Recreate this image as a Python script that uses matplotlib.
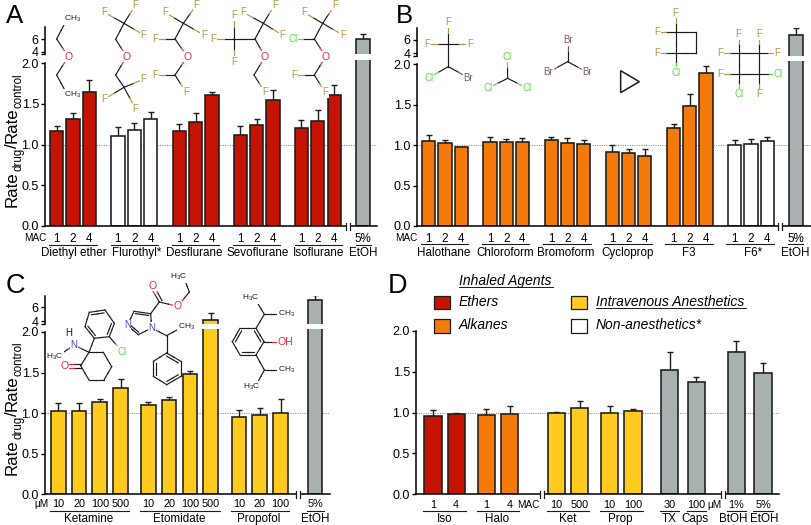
import matplotlib
matplotlib.use('Agg')
import matplotlib.pyplot as plt
from matplotlib.patches import Rectangle, Polygon
import numpy as np

plt.rcParams['font.family'] = ['Liberation Sans', 'DejaVu Sans']
plt.rcParams['mathtext.fontset'] = 'custom'
plt.rcParams['mathtext.rm'] = 'Liberation Sans'
plt.rcParams['mathtext.default'] = 'regular'

# panel A
a_names = ['Diethyl ether', 'Flurothyl*', 'Desflurane', 'Sevoflurane', 'Isoflurane']
a_ticks = ['1', '2', '4']
a_vals = [[1.17, 1.31, 1.645], [1.107, 1.176, 1.31], [1.17, 1.28, 1.61],
          [1.12, 1.24, 1.553], [1.205, 1.295, 1.607]]
a_hi = [[1.23, 1.39, 1.795], [1.22, 1.26, 1.40], [1.25, 1.39, 1.643],
        [1.235, 1.31, 1.668], [1.30, 1.42, 1.738]]
a_etoh = 6.0
a_etoh_hi = 6.8

# panel B
b_names = ['Halothane', 'Chloroform', 'Bromoform', 'Cycloprop', 'F3', 'F6*']
b_ticks = ['1', '2', '4']
b_vals = [[1.05, 1.03, 0.975], [1.04, 1.045, 1.037], [1.062, 1.03, 1.012],
          [0.913, 0.90, 0.868], [1.21, 1.48, 1.888], [1.008, 1.02, 1.05]]
b_hi = [[1.13, 1.06, 0.983], [1.10, 1.08, 1.087], [1.095, 1.087, 1.062],
        [0.996, 0.95, 0.955], [1.256, 1.632, 1.983], [1.062, 1.078, 1.095]]
b_etoh = 6.75
b_etoh_hi = 7.85

# panel C
c_names = ['Ketamine', 'Etomidate', 'Propofol']
c_ticks = [['10', '20', '100', '500'], ['10', '20', '100', '500'], ['10', '20', '100']]
c_vals = [[1.03, 1.03, 1.137, 1.314], [1.097, 1.162, 1.478, 4.2], [0.953, 0.977, 1.006]]
c_hi = [[1.12, 1.12, 1.18, 1.425], [1.133, 1.20, 1.52, 5.1], [1.04, 1.06, 1.175]]
c_etoh = 7.1
c_etoh_hi = 7.8

# panel D
d_names = ['Iso', 'Halo', 'Ket', 'Prop', 'TX', 'Caps', 'BtOH', 'EtOH']
d_ticks = ['1', '4', '1', '4', '10', '500', '10', '100', '30', '100', '1%', '5%']
d_vals = [0.953, 0.98, 0.965, 0.98, 0.998, 1.05, 0.998, 1.014, 1.515, 1.369, 1.743, 1.487]
d_hi = [1.03, 0.998, 1.04, 1.075, 1.006, 1.136, 1.075, 1.047, 1.74, 1.438, 1.878, 1.605]

RED = '#C41300'
ORANGE = '#F57A0C'
YELLOW = '#FFCB1E'
GREY = '#A7B2B0'
WHITE = '#FFFFFF'
INK = '#1c1c1c'
C_O = '#E0303A'
C_F = '#B8924A'
C_CL = '#5CDB45'
C_BR = '#85586A'
C_N = '#3A45C8'

W, H = 812, 525
fig = plt.figure(figsize=(W / 100, H / 100), dpi=100)


def make_ax(left, right, top, bottom):
    ax = fig.add_axes([left / W, 1 - bottom / H, (right - left) / W, (bottom - top) / H])
    ax.patch.set_alpha(0)
    ax.set_xlim(left, right)
    for s in ['top', 'right']:
        ax.spines[s].set_visible(False)
    ax.spines['left'].set_linewidth(1.1)
    ax.spines['bottom'].set_linewidth(1.1)
    ax.tick_params(axis='y', length=3.2, width=1.0, pad=1, labelsize=9)
    return ax


def draw_bars(ax, x, vals, hi, colors, width):
    vals = np.array(vals, dtype=float)
    hi = np.array(hi, dtype=float)
    ax.bar(x, vals, width, color=colors, edgecolor=INK, linewidth=1.15, zorder=2)
    ax.errorbar(x, vals, yerr=[np.zeros(len(vals)), hi - vals], fmt='none', ecolor=INK,
                elinewidth=1.0, capsize=2.4, capthick=1.0, zorder=1)


def panel(left, right, y0, y2, x, vals, hi, colors, width, ticklabels, tick_size=8.4,
          tick_pad=5.0, upper=None):
    ppu = (y0 - y2) / 2.0
    low = make_ax(left, right, y2 - 3, y0)
    low.set_ylim(0, 2 + 3 / ppu)
    low.spines['left'].set_bounds(0, 2)
    low.set_yticks([0, 0.5, 1.0, 1.5, 2.0], ['0.0', '0.5', '1.0', '1.5', '2.0'])
    low.axhline(1.0, color='#808080', lw=0.7, ls=(0, (1, 1.4)), zorder=0)
    draw_bars(low, x, vals, hi, colors, width)
    low.set_xticks(x, ticklabels)
    low.tick_params(axis='x', length=0, pad=tick_pad, labelsize=tick_size)
    if upper is not None:
        y6, y4, ytop, ybrk = upper
        per = (y4 - y6) / 2.0
        lo = 4 - (ybrk - y4) / per
        up = make_ax(left, right, ytop, ybrk)
        up.set_ylim(lo, 6 + (y6 - ytop) / per)
        up.spines['bottom'].set_visible(False)
        up.set_yticks([lo, 4, 6], ['', '4', '6'])
        up.set_xticks([])
        draw_bars(up, x, vals, hi, colors, width)
    return low


# panel A bars
a_x = [56.7 + 61.2 * g + 16.4 * i for g in range(5) for i in range(3)] + [363]
a_colors = [RED] * 3 + [WHITE] * 3 + [RED] * 9 + [GREY]
panel(44.7, 377, 226, 63.3, a_x, sum(a_vals, []) + [a_etoh], sum(a_hi, []) + [a_etoh_hi],
      a_colors, 13.2, a_ticks * 5 + ['5%'], upper=(39.3, 51.7, 27, 54.3))

# panel B bars
b_x = [428.8 + 61.2 * g + 16.2 * i for g in range(6) for i in range(3)] + [796]
b_colors = [ORANGE] * 15 + [WHITE] * 3 + [GREY]
panel(416.7, 811, 226, 64.3, b_x, sum(b_vals, []) + [b_etoh], sum(b_hi, []) + [b_etoh_hi],
      b_colors, 13.2, b_ticks * 6 + ['5%'], upper=(40, 53, 27.5, 55.5))

# panel C bars
c_start = [58.3, 148.3, 239]
c_x = [c_start[g] + 20.8 * i for g in range(3) for i in range(len(c_vals[g]))] + [315]
c_colors = [YELLOW] * 11 + [GREY]
panel(44.7, 330, 494.3, 332, c_x, sum(c_vals, []) + [c_etoh], sum(c_hi, []) + [c_etoh_hi],
      c_colors, 14.8, sum(c_ticks, []) + ['5%'], tick_size=7.8, tick_pad=3.7,
      upper=(307.3, 321, 295.7, 323.5))

# panel D bars
d_x = [433, 456.2, 486.3, 509.7, 556.3, 579.7, 609.7, 633, 669.7, 696.3, 736.3, 763]
d_colors = [RED] * 2 + [ORANGE] * 2 + [YELLOW] * 4 + [GREY] * 4
panel(415.7, 779, 494.3, 330.7, d_x, d_vals, d_hi, d_colors, 17.3, d_ticks, tick_size=7.8, tick_pad=4.2)

# everything else is placed in pixels on a transparent overlay
over = fig.add_axes([0, 0, 1, 1])
over.set_xlim(0, W)
over.set_ylim(H, 0)
over.axis('off')
over.patch.set_alpha(0)


def axis_break(x, y):
    over.plot([x - 2, x + 2], [y, y], color='white', lw=1.6, solid_capstyle='butt')
    for dx in (-2, 2):
        over.plot([x + dx, x + dx], [y - 3.5, y + 3.5], color=INK, lw=0.9)


def label_row(oy, x_off, line_y, name_y, under, names, centers, size=8.4):
    for a, b in under:
        over.plot([x_off + a / 3, x_off + b / 3], [oy + line_y / 3] * 2, color=INK, lw=0.8)
    for s, c in zip(names, centers):
        over.text(x_off + c / 3, oy + name_y / 3, s, ha='center', va='center', fontsize=size)


axis_break(348.5, 226)
axis_break(780, 226)
axis_break(298, 494.3)
axis_break(542, 494.3)
axis_break(722.7, 494.3)

label_row(0, 0, 735, 760,
          [(147, 290), (333, 473), (517, 657), (700, 840), (884, 1025), (1067, 1112)],
          a_names + ['EtOH'], [220, 410, 583, 773, 955, 1090])
label_row(0, 400, 733, 760,
          [(62, 205), (245, 388), (428, 572), (612, 755), (795, 938), (978, 1122), (1165, 1210)],
          b_names + ['EtOH'], [132, 315, 498, 682, 865, 1058, 1187])
label_row(265, 0, 737, 762, [(150, 388), (420, 660), (692, 867), (922, 972)],
          c_names + ['EtOH'], [265, 537, 776, 945])
label_row(265, 400, 737, 762,
          [(70, 197), (230, 357), (440, 568), (600, 728), (780, 838), (860, 918), (980, 1038), (1060, 1118)],
          d_names, [133, 292, 504, 662, 808, 886, 1000, 1092])

over.text(35, 238, 'MAC', ha='center', va='center', fontsize=7.2)
over.text(406.5, 238, 'MAC', ha='center', va='center', fontsize=7.2)
over.text(41.7, 504, 'µM', ha='center', va='center', fontsize=7.2)
over.text(528.3, 505, 'MAC', ha='center', va='center', fontsize=7.2)
over.text(714.3, 505, 'µM', ha='center', va='center', fontsize=7.2)


def ylabel_parts(x_base, y_start):
    # rotated label put together piece by piece, mathtext spaces it too wide
    rend = fig.canvas.get_renderer()
    y = y_start
    for s, size, dx in [('Rate', 12.2, 0), ('drug', 8.3, 5), ('/', 12.2, 0),
                        ('Rate', 12.2, 0), ('control', 8.3, 5)]:
        t = over.text(x_base + dx, y, s, rotation=90, rotation_mode='anchor', ha='left',
                      va='baseline', fontsize=size)
        y -= t.get_window_extent(rend).height


ylabel_parts(16.7, 207)
ylabel_parts(16.7, 475)

for s, px, py, size in [('A', 6, 23.3, 18.5), ('B', 396, 23.3, 18.5), ('C', 6, 293, 19.5), ('D', 388, 293, 19.5)]:
    over.text(px, py, s, ha='left', va='baseline', fontsize=size)

# legend of panel D
for x_box, y_box, col in [(102, 92, RED), (102, 163, ORANGE), (513, 92, YELLOW), (513, 163, WHITE)]:
    over.add_patch(Rectangle((400 + x_box / 3, 265 + y_box / 3), 48 / 3, 40 / 3, fc=col, ec=INK, lw=0.9))
leg_txt = [(177, 47, 'Inhaled Agents', 281), (177, 110, 'Ethers', 0), (177, 181, 'Alkanes', 0),
           (587, 110, 'Intravenous Anesthetics', 452), (587, 181, 'Non-anesthetics*', 0)]
for x_t, y_t, s, ul in leg_txt:
    over.text(400 + x_t / 3, 265 + y_t / 3, s, style='italic', ha='left', va='center', fontsize=10)
    if ul:
        over.plot([400 + x_t / 3, 400 + (x_t + ul) / 3], [265 + (y_t + 19) / 3] * 2, color=INK, lw=0.7)


# molecule sketches, coordinates in zoomed units (3 per pixel) from an origin
def bond(o, a, b, ca=INK, cb=INK):
    pa = (o[0] + a[0] / 3, o[1] + a[1] / 3)
    pb = (o[0] + b[0] / 3, o[1] + b[1] / 3)
    mid = ((pa[0] + pb[0]) / 2, (pa[1] + pb[1]) / 2)
    over.plot([pa[0], mid[0]], [pa[1], mid[1]], color=ca, lw=0.85, zorder=3)
    over.plot([mid[0], pb[0]], [mid[1], pb[1]], color=cb, lw=0.85, zorder=3)


def atom(o, p, s, col=INK, size=7.0):
    over.text(o[0] + p[0] / 3, o[1] + p[1] / 3, s, color=col, fontsize=size, ha='center', va='center',
              zorder=4, bbox=dict(fc='white', ec='none', pad=0.4))


def spokes(o, c, pts, s, col):
    for p in pts:
        bond(o, c, p, INK, col)
        atom(o, p, s, col)


def chain(o, pts):
    for a, b in zip(pts[:-1], pts[1:]):
        bond(o, a, b)


def ring(o, pts, doubles):
    cx = sum(p[0] for p in pts) / len(pts)
    cy = sum(p[1] for p in pts) / len(pts)
    for i in range(len(pts)):
        bond(o, pts[i], pts[(i + 1) % len(pts)])
    for i in doubles:
        a, b = pts[i], pts[(i + 1) % len(pts)]
        f = 0.2
        bond(o, (a[0] + f * (cx - a[0]), a[1] + f * (cy - a[1])), (b[0] + f * (cx - b[0]), b[1] + f * (cy - b[1])))


def oxygen(o, a, p, b):
    bond(o, a, p, INK, C_O)
    bond(o, p, b, C_O, INK)
    atom(o, p, 'O', C_O, 7.6)


ch3 = 'CH$_3$'
h3c = 'H$_3$C'
o = (0, 0)
# diethyl ether
chain(o, [(197, 65), (170, 117)])
oxygen(o, (170, 117), (205, 170), (170, 225))
chain(o, [(170, 225), (197, 275)])
atom(o, (217, 58), ch3, INK, 6)
atom(o, (217, 285), ch3, INK, 6)
# flurothyl
spokes(o, (372, 70), [(313, 37), (407, 14), (431, 105)], 'F', C_F)
chain(o, [(372, 70), (347, 118)])
oxygen(o, (347, 118), (380, 170), (347, 225))
chain(o, [(347, 225), (372, 262)])
spokes(o, (372, 262), [(431, 238), (314, 297), (407, 327)], 'F', C_F)
# desflurane
spokes(o, (550, 70), [(495, 37), (590, 14), (612, 105)], 'F', C_F)
chain(o, [(550, 70), (525, 117)])
spokes(o, (525, 117), [(465, 117)], 'F', C_F)
oxygen(o, (525, 117), (562, 170), (525, 225))
spokes(o, (525, 225), [(465, 225), (558, 277)], 'F', C_F)
# sevoflurane
spokes(o, (702, 117), [(702, 45), (640, 117), (702, 185)], 'F', C_F)
chain(o, [(702, 117), (765, 117), (790, 70)])
spokes(o, (790, 70), [(730, 37), (825, 14), (847, 105)], 'F', C_F)
oxygen(o, (765, 117), (795, 170), (762, 225))
spokes(o, (762, 225), [(795, 277)], 'F', C_F)
# isoflurane
spokes(o, (968, 70), [(912, 37), (1005, 14), (1029, 105)], 'F', C_F)
chain(o, [(968, 70), (943, 117)])
spokes(o, (943, 117), [(878, 117)], 'Cl', C_CL)
oxygen(o, (943, 117), (977, 170), (943, 225))
spokes(o, (943, 225), [(882, 225), (975, 277)], 'F', C_F)

o = (400, 0)
# halothane
spokes(o, (145, 133), [(145, 67), (82, 133), (210, 133)], 'F', C_F)
chain(o, [(145, 133), (145, 200)])
spokes(o, (145, 200), [(87, 233)], 'Cl', C_CL)
spokes(o, (145, 200), [(205, 233)], 'Br', C_BR)
# chloroform, bromoform
spokes(o, (323, 235), [(322, 170), (263, 265), (382, 265)], 'Cl', C_CL)
spokes(o, (503, 185), [(503, 120), (445, 217), (562, 217)], 'Br', C_BR)
# cyclopropane
over.add_patch(Polygon([(400 + 662 / 3, 212 / 3), (400 + 718 / 3, 245 / 3), (400 + 662 / 3, 278 / 3)],
                       closed=True, fc='none', ec=INK, lw=1.1))
# F3
chain(o, [(827, 97), (888, 97), (888, 158), (827, 158), (827, 97)])
spokes(o, (827, 97), [(827, 38), (772, 97)], 'F', C_F)
spokes(o, (827, 158), [(772, 158)], 'F', C_F)
spokes(o, (827, 158), [(827, 218)], 'Cl', C_CL)
# F6
chain(o, [(1016, 160), (1077, 160), (1077, 222), (1016, 222), (1016, 160)])
spokes(o, (1016, 160), [(1016, 103), (962, 160)], 'F', C_F)
spokes(o, (1077, 160), [(1077, 103), (1132, 160)], 'F', C_F)
spokes(o, (1016, 222), [(962, 222)], 'F', C_F)
spokes(o, (1016, 222), [(1016, 283)], 'Cl', C_CL)
spokes(o, (1077, 222), [(1135, 222)], 'Cl', C_CL)
spokes(o, (1077, 222), [(1077, 283)], 'F', C_F)

# ketamine
o = (40, 295)
ring(o, [(148, 52), (195, 45), (223, 85), (208, 125), (163, 130), (135, 95)], [0, 2, 4])
spokes(o, (208, 125), [(246, 170)], 'Cl', C_CL)
chain(o, [(163, 130), (147, 172)])
ring(o, [(147, 172), (190, 172), (215, 215), (192, 255), (147, 255), (122, 212)], [])
bond(o, (147, 172), (102, 150), INK, C_N)
bond(o, (102, 150), (62, 178), C_N, INK)
bond(o, (102, 150), (87, 115), C_N, INK)
atom(o, (102, 150), 'N', C_N)
atom(o, (87, 115), 'H')
atom(o, (45, 185), h3c, INK, 6)
bond(o, (122, 206), (80, 206), INK, C_O)
bond(o, (122, 218), (80, 218), INK, C_O)
atom(o, (73, 212), 'O', C_O, 7.6)

# etomidate
o = (120, 268)
chain(o, [(195, 38), (208, 72)])
oxygen(o, (208, 72), (173, 115), (118, 102))
bond(o, (118, 102), (92, 58), INK, C_O)
bond(o, (126, 98), (102, 54), INK, C_O)
atom(o, (97, 53), 'O', C_O, 7.6)
atom(o, (175, 27), h3c, INK, 6)
chain(o, [(118, 102), (92, 137)])
ring(o, [(92, 137), (42, 130), (22, 172), (55, 200), (95, 180)], [0, 2])
atom(o, (22, 172), 'N', C_N)
atom(o, (95, 180), 'N', C_N)
bond(o, (95, 180), (140, 203), C_N, INK)
chain(o, [(140, 203), (178, 182)])
atom(o, (200, 177), ch3, INK, 6)
chain(o, [(140, 203), (140, 255)])
ring(o, [(140, 255), (183, 280), (183, 325), (140, 350), (100, 325), (100, 280)], [0, 2, 4])

# propofol
o = (225, 285)
ring(o, [(93, 130), (117, 170), (93, 210), (45, 210), (22, 170), (45, 130)], [0, 2, 4])
bond(o, (117, 170), (165, 170), INK, C_O)
atom(o, (180, 170), 'OH', C_O, 7.6)
chain(o, [(93, 130), (118, 88), (98, 55)])
chain(o, [(118, 88), (160, 88)])
atom(o, (77, 40), h3c, INK, 6)
atom(o, (185, 88), ch3, INK, 6)
chain(o, [(93, 210), (118, 255), (160, 255)])
chain(o, [(118, 255), (98, 292)])
atom(o, (185, 255), ch3, INK, 6)
atom(o, (81, 306), h3c, INK, 6)

fig.savefig('out.png', dpi=100)
